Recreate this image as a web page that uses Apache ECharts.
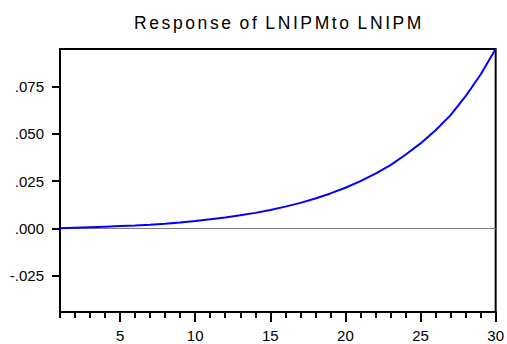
<!DOCTYPE html>
<html>
<head>
<meta charset="utf-8">
<script src="https://cdn.jsdelivr.net/npm/echarts@6/dist/echarts.min.js"></script>
<style>
html,body{margin:0;padding:0;background:#fff;}
#chart{width:507px;height:344px;}
#chart text.spaced-title{letter-spacing:2.6px;word-spacing:-1.5px;}
</style>
</head>
<body>
<div id="chart"></div>
<script>
const chartTitle = 'Response of LNIPMto LNIPM';
const periods = [1,2,3,4,5,6,7,8,9,10,11,12,13,14,15,16,17,18,19,20,21,22,23,24,25,26,27,28,29,30];
const response = [0.0000,0.0003,0.0006,0.0009,0.0012,0.0015,0.0019,0.0024,0.0031,0.0039,
                  0.0048,0.0058,0.0069,0.0082,0.0097,0.0115,0.0135,0.0158,0.0185,0.0215,
                  0.0250,0.0290,0.0335,0.0390,0.0450,0.0520,0.0600,0.0700,0.0815,0.0950];
const yTicks = [-0.025, 0, 0.025, 0.05, 0.075];
const xLabelTicks = [5, 10, 15, 20, 25, 30];
const xMinorTicks = periods;

const dom = document.getElementById('chart');
const chart = echarts.init(dom, null, {renderer: 'svg'});

const fmtY = v => {
  const s = Math.abs(v).toFixed(3).replace(/^0/, '');
  return (v < 0 ? '-' : '') + s;
};

const font = 'Liberation Sans, Arial, sans-serif';

function spaceTitle() {
  dom.querySelectorAll('text').forEach(t => {
    if (t.textContent === chartTitle) {
      t.classList.add('spaced-title');
      t.style.letterSpacing = '2.6px';
      t.style.wordSpacing = '-1.5px';
    }
  });
}

chart.on('finished', spaceTitle);

chart.setOption({
  animation: false,
  backgroundColor: '#fff',
  title: {
    text: chartTitle,
    left: 129, top: 9,
    textStyle: {fontSize: 17.5, fontWeight: 'normal', color: '#000', fontFamily: font}
  },
  grid: {left: 60, top: 49, width: 436, height: 263, show: true, borderColor: '#000', borderWidth: 2, backgroundColor: 'transparent'},
  xAxis: [{
    type: 'value', min: 1, max: 30,
    axisLine: {show: true, onZero: false, lineStyle: {color: '#000', width: 2}},
    axisTick: {show: true, customValues: xLabelTicks, length: 10, lineStyle: {color: '#000', width: 2}},
    axisLabel: {show: true, customValues: xLabelTicks, margin: 16, color: '#000', fontSize: 15, fontFamily: font},
    splitLine: {show: false}
  }, {
    type: 'value', min: 1, max: 30, position: 'bottom', gridIndex: 0,
    axisLine: {show: false, onZero: false},
    axisTick: {show: true, customValues: xMinorTicks, length: 6, lineStyle: {color: '#000', width: 2}},
    axisLabel: {show: false},
    splitLine: {show: false}
  }],
  yAxis: {
    type: 'value', min: -0.0443, max: 0.095,
    axisLine: {show: true, onZero: false, lineStyle: {color: '#000', width: 2}},
    axisTick: {show: true, customValues: yTicks, length: 8, lineStyle: {color: '#000', width: 2}},
    axisLabel: {show: true, customValues: yTicks, margin: 16, color: '#000', fontSize: 15, fontFamily: font, formatter: fmtY},
    splitLine: {show: false}
  },
  series: [{
    type: 'line',
    data: periods.map((p, i) => [p, response[i]]),
    showSymbol: false,
    smooth: false,
    lineStyle: {color: '#0000ff', width: 2},
    itemStyle: {color: '#0000ff'},
    z: 3,
    markLine: {
      silent: true, symbol: 'none', label: {show: false},
      lineStyle: {color: '#7f7f7f', width: 1, type: 'solid'},
      data: [{yAxis: 0}],
      z: 2
    }
  }]
});
spaceTitle();
setTimeout(spaceTitle, 0);
setTimeout(spaceTitle, 50);
</script>
</body>
</html>
